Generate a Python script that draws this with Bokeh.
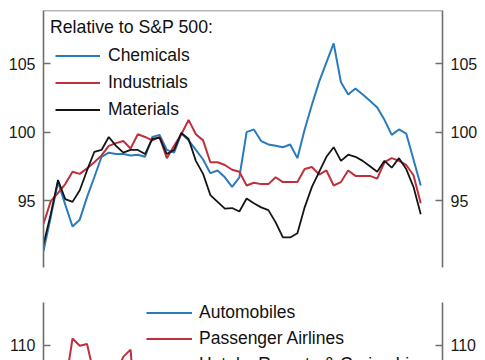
from bokeh.plotting import figure
from bokeh.models import (LinearAxis, FixedTicker, Range1d, Span, Label,
                          Legend, LegendItem)
from bokeh.layouts import column
from bokeh.embed import file_html
from bokeh.resources import INLINE

NaN = float("nan")

# ---------------- data (weekly index, relative to S&P 500) ----------------
weeks = list(range(53))
chemicals = [91.3, 93.8, 96.35, 94.7, 93.1, 93.6, 95.25, 96.7, 98.2, 98.5,
             98.4, 98.4, 98.3, 98.35, 98.2, 99.65, 99.8, 98.7, 98.5, 99.9,
             99.4, 98.7, 98.0, 97.0, 97.2, 96.7, 96.0, 96.7, 100.0, 100.2,
             99.35, 99.1, 99.0, 98.9, 99.1, 98.1, 100.2, 102.0, 103.7, 105.1,
             106.5, 103.65, 102.75, 103.2, 102.75, 102.3, 101.8, 100.9, 99.8, 100.2,
             99.9, 98.0, 96.1]
industrials = [93.3, 94.95, 95.55, 96.2, 97.1, 96.95, 97.35, 97.8, 98.3, 99.0,
               99.2, 99.35, 98.8, 99.85, 99.65, 99.4, 99.65, 98.1, 99.0, 99.85,
               100.9, 99.85, 99.4, 97.8, 97.8, 97.6, 97.25, 97.1, 96.1, 96.3,
               96.2, 96.2, 96.7, 96.35, 96.35, 96.35, 97.3, 97.45, 96.9, 97.2,
               96.1, 96.35, 97.2, 96.8, 96.8, 96.8, 96.6, 97.8, 98.1, 97.9,
               97.6, 96.85, 94.8]
materials = [91.8, 94.0, 96.5, 95.1, 94.9, 95.75, 97.2, 98.55, 98.7, 99.65,
             99.0, 98.5, 98.7, 98.7, 98.4, 99.5, 99.6, 98.4, 98.7, 99.95,
             99.5, 97.9, 96.95, 95.4, 94.9, 94.4, 94.45, 94.2, 95.15, 94.8,
             94.5, 94.3, 93.4, 92.3, 92.3, 92.6, 94.5, 96.0, 97.1, 98.2,
             98.9, 97.9, 98.35, 98.2, 97.9, 97.5, 97.1, 97.9, 97.4, 98.1,
             97.3, 96.0, 94.0]

# lower panel: only the top of it is visible in the reference
lower_weeks = list(range(3, 14))
airlines = [105.3, 110.8, 109.95, 110.15, 106.5, 105.5, 106.0, 106.8, 108.65, 109.5, 99.2]
automobiles = [NaN] * len(lower_weeks)   # not visible in the reference crop
hotels = [NaN] * len(lower_weeks)        # not visible in the reference crop

top_ticks = [95, 100, 105]
bottom_ticks = [90, 100, 110]
top_title = "Relative to S&P 500:"
top_labels = ["Chemicals", "Industrials", "Materials"]
bottom_labels = ["Automobiles", "Passenger Airlines", "Hotels, Resorts & Cruise Lines"]

# ---------------- style ----------------
FONT = "Liberation Sans"
BLUE = "#2a7bbd"
RED = "#c0303c"
BLACK = "#151515"
AXIS = "#6f6f6f"
FW, FH = 399, 257
LEG_FS = "17.5px"
ROW_H = 21


def make_fig(y0, y1, ticks, mb_top, mb_bottom):
    p = figure(frame_width=FW, frame_height=FH,
               x_range=Range1d(0, 55), y_range=Range1d(y0, y1),
               x_axis_location=None, y_axis_location=None,
               toolbar_location=None, output_backend="svg",
               min_border_left=43, min_border_right=35,
               min_border_top=mb_top, min_border_bottom=mb_bottom)
    p.grid.visible = False
    p.outline_line_color = None
    for side in ("left", "right"):
        ax = LinearAxis(ticker=FixedTicker(ticks=ticks))
        ax.axis_line_color = AXIS
        ax.axis_line_width = 1.6
        ax.major_tick_line_color = AXIS
        ax.major_tick_line_width = 1.4
        ax.major_tick_in = 7
        ax.major_tick_out = 0
        ax.minor_tick_line_color = None
        ax.major_label_standoff = 8
        ax.major_label_text_font = FONT
        ax.major_label_text_font_size = "16px"
        ax.major_label_text_color = "#1a1a1a"
        p.add_layout(ax, side)
    return p


def make_legend(items, x, top_gap, spacing, gw, standoff):
    n = len(items)
    h = n * ROW_H + (n - 1) * spacing
    return Legend(items=items, location=(x, FH - top_gap - h), padding=0, margin=0,
                  spacing=spacing, glyph_width=gw, glyph_height=ROW_H,
                  label_height=ROW_H, label_standoff=standoff,
                  label_text_font=FONT, label_text_font_size=LEG_FS,
                  label_text_color="#111111",
                  border_line_color=None, background_fill_alpha=0)


# ---------------- top panel ----------------
Y0, Y1 = 90.1, 108.9
p1 = make_fig(Y0, Y1, top_ticks, 10, 15)
p1.add_layout(Span(location=Y1, dimension="width", line_color=AXIS, line_width=1.6))

r_c = p1.line(weeks, chemicals, line_color=BLUE, line_width=2)
r_i = p1.line(weeks, industrials, line_color=RED, line_width=2)
r_m = p1.line(weeks, materials, line_color=BLACK, line_width=1.8)

ppu = FH / (Y1 - Y0)
xpu = FW / 55.0
p1.add_layout(Label(x=6.5 / xpu, y=Y1 - 16.8 / ppu, text=top_title,
                    text_font=FONT, text_font_size="17.7px", text_color="#111111",
                    text_baseline="alphabetic"))

items1 = [LegendItem(label=top_labels[0], renderers=[r_c]),
          LegendItem(label=top_labels[1], renderers=[r_i]),
          LegendItem(label=top_labels[2], renderers=[r_m])]
p1.add_layout(make_legend(items1, 12, 35, 6, 45, 8))

# ---------------- bottom panel ----------------
B0, B1 = 85, 115
p2 = make_fig(B0, B1, bottom_ticks, 20, 10)
r_a = p2.line(lower_weeks, automobiles, line_color=BLUE, line_width=2)
r_p = p2.line(lower_weeks, airlines, line_color=RED, line_width=2)
r_h = p2.line(lower_weeks, hotels, line_color=BLACK, line_width=1.8)
items2 = [LegendItem(label=bottom_labels[0], renderers=[r_a]),
          LegendItem(label=bottom_labels[1], renderers=[r_p]),
          LegendItem(label=bottom_labels[2], renderers=[r_h])]
p2.add_layout(make_legend(items2, 103, 0, 5, 46, 7))

layout = column(p1, p2, spacing=0)

html = file_html(layout, INLINE, title="chart")
html = html.replace("</head>",
                    "<style>html,body{margin:0;padding:0;overflow:hidden;}</style></head>", 1)
open("out.html", "w").write(html)
